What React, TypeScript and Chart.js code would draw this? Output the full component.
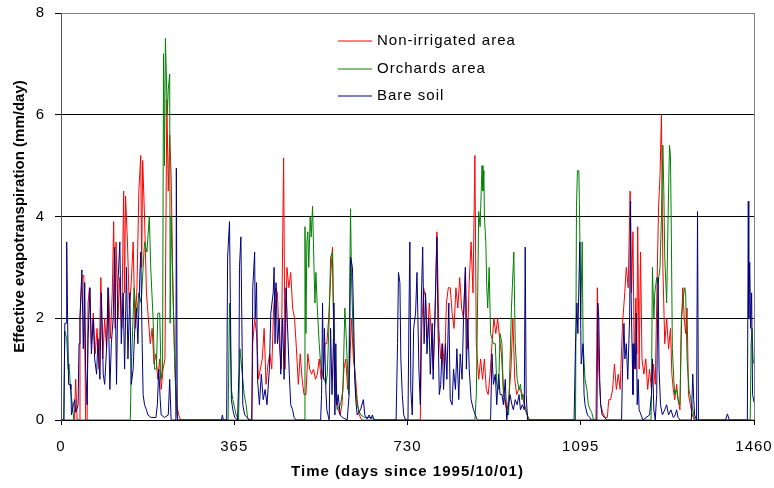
import React, { useEffect, useRef } from 'react';
import { Chart, registerables } from 'chart.js';

Chart.register(...registerables);

// ---------- data (day, mm/day) ----------
const xTickValues = [0, 365, 730, 1095, 1460];
const yTickValues = [0, 2, 4, 6, 8];
const seriesNames = ['Non-irrigated area', 'Orchards area', 'Bare soil'];
const seriesColors = ['#FF0000', '#008000', '#000080'];
const xTitle = 'Time (days since 1995/10/01)';
const yTitle = 'Effective evapotranspiration (mm/day)';

const nonIrrigated: [number, number][] = [
  [0, 0], [28, 0], [31, 0.8], [34, 0], [38, 0], [40, 2.0], [44, 2.8], [48, 2.85], [50, 1.6], [52, 0], [55, 0],
  [57, 2.3], [60, 2.6], [64, 1.5], [68, 2.1], [72, 1.3], [76, 1.8], [80, 1.0], [84, 2.8], [88, 1.2], [92, 2.0],
  [96, 1.4], [100, 2.6], [104, 1.6], [108, 2.5], [111, 3.9], [114, 1.8], [116, 3.5], [120, 2.0], [124, 2.8],
  [128, 1.8], [132, 4.5], [134, 2.5], [136, 4.4], [140, 3.5], [144, 2.2], [148, 2.7], [152, 3.5], [156, 1.8],
  [160, 2.6], [164, 4.5], [168, 5.2], [170, 3.0], [172, 5.1], [176, 4.0], [180, 2.5], [184, 2.0], [188, 1.5],
  [192, 1.8], [196, 1.1], [200, 1.3], [204, 0.8], [208, 1.2], [211, 0.6], [215, 1.0], [219, 1.2], [223, 6.3],
  [226, 4.5], [229, 5.6], [232, 4.8], [236, 2.5], [240, 1.0], [244, 0.3], [248, 0.1], [252, 0],
  [402, 0], [404, 1.5], [408, 2.0], [412, 1.7], [416, 0.8], [420, 1.0], [424, 1.2], [428, 1.8], [432, 0.7],
  [436, 1.1], [440, 1.3], [444, 1.0], [448, 2.2], [452, 2.6], [456, 2.5], [460, 1.5], [464, 1.0], [469, 5.15],
  [472, 1.0], [476, 3.0], [480, 2.6], [484, 2.9], [488, 2.2], [492, 2.0], [496, 1.4], [500, 0.7], [504, 1.3],
  [508, 0.8], [512, 0.5], [516, 0.5], [520, 1.3], [524, 1.0], [528, 0.9], [532, 1.0], [536, 0.8], [540, 0.9],
  [544, 1.2], [548, 0.8], [552, 0.9], [556, 1.5], [560, 1.5], [564, 2.0], [568, 2.8], [572, 3.4], [576, 0.6],
  [580, 0.5], [584, 0.2], [588, 0.1], [592, 0.3], [596, 1.0], [600, 1.2], [604, 0.6], [608, 1.0], [612, 2.0],
  [616, 1.2], [620, 0.9], [624, 0.4], [628, 0.1], [634, 0],
  [757, 0], [760, 1.8], [764, 2.6], [768, 2.4], [772, 1.6], [776, 2.3], [780, 1.7], [784, 1.0], [788, 2.0],
  [792, 3.7], [796, 1.8], [800, 1.2], [804, 1.5], [808, 1.0], [812, 2.3], [816, 2.6], [820, 2.6], [824, 2.1],
  [828, 1.8], [832, 2.6], [836, 2.2], [840, 2.8], [844, 2.2], [848, 2.0], [852, 3.0], [856, 1.4], [860, 2.7],
  [864, 3.5], [868, 2.5], [872, 5.2], [875, 1.5], [880, 0.8], [884, 1.2], [888, 0.8], [892, 1.2], [896, 0.6],
  [900, 0.5], [904, 0.9], [908, 1.5], [912, 2.0], [916, 1.7], [920, 2.0], [924, 1.6], [928, 1.3], [932, 0.6],
  [936, 0.3], [940, 0.2], [944, 0.5], [948, 1.0], [952, 2.0], [956, 0.8], [960, 0.5], [964, 0.6], [968, 0.6],
  [972, 0.5], [976, 0.3], [980, 0.2], [984, 0.05], [988, 0],
  [1127, 0], [1130, 2.6], [1133, 1.0], [1137, 0.3], [1141, 0.15], [1146, 0.05], [1151, 0.05], [1154, 0.4],
  [1158, 0.4], [1162, 0.6], [1166, 1.1], [1170, 0.6], [1174, 0.9], [1178, 0.6], [1183, 1.9], [1187, 2.4],
  [1191, 3.0], [1195, 2.6], [1199, 4.5], [1202, 2.5], [1205, 3.7], [1208, 1.0], [1211, 2.4], [1213, 1.3],
  [1215, 3.8], [1218, 1.0], [1221, 3.3], [1224, 1.2], [1228, 0.9], [1232, 1.2], [1236, 0.6], [1240, 1.0],
  [1244, 0.6], [1248, 1.1], [1252, 0.7], [1256, 2.8], [1259, 4.2], [1262, 4.8], [1265, 6.0], [1268, 3.0],
  [1272, 1.5], [1276, 2.0], [1280, 1.4], [1284, 1.8], [1287, 0.9], [1290, 0.6], [1293, 0.4], [1297, 0.7],
  [1300, 0.4], [1304, 0.2], [1307, 1.8], [1310, 2.6], [1313, 2.0], [1316, 1.7], [1319, 2.2], [1322, 0.5],
  [1326, 0.3], [1330, 0.1], [1334, 0], [1460, 0],
];

const orchards: [number, number][] = [
  [0, 0], [6, 0], [8, 1.75], [12, 1.6], [15, 1.0], [17, 1.1], [20, 0.6], [24, 0.3], [27, 0],
  [146, 0], [148, 1.0], [150, 1.5], [154, 2.6], [159, 2.0], [164, 2.5], [169, 2.3], [173, 3.0], [176, 3.5],
  [181, 3.3], [186, 4.0], [189, 3.0], [194, 2.0], [197, 1.0], [201, 1.0], [204, 2.1], [208, 2.1], [211, 0.8],
  [214, 1.0], [216, 7.2], [218, 5.0], [220, 7.5], [224, 6.0], [226, 6.5], [229, 6.8], [230, 1.9], [232, 4.0],
  [236, 2.5], [240, 1.0], [243, 0.2], [246, 0],
  [352, 0], [355, 2.3], [359, 0.6], [362, 0.4], [369, 0.1], [374, 0], [377, 1.4], [383, 0.8], [386, 0.5],
  [390, 0.3], [393, 0.05], [396, 0],
  [512, 0], [514, 3.8], [516, 1.7], [518, 3.5], [520, 3.7], [522, 3.0], [525, 4.0], [527, 3.6], [530, 4.2],
  [533, 3.0], [535, 2.3], [537, 2.9], [540, 2.2], [544, 1.5], [547, 1.1], [551, 0.9], [555, 0.8], [558, 0.7],
  [561, 0.9], [565, 2.0], [568, 3.2], [572, 3.3], [575, 1.5], [578, 0.5], [582, 0.2], [589, 0.3], [594, 0.6],
  [598, 2.2], [601, 1.6], [606, 0.5], [610, 4.15], [612, 2.8], [616, 1.5], [620, 0.7], [624, 0.3], [631, 0.1],
  [640, 0.05], [656, 0.05], [660, 0],
  [872, 0], [875, 0.5], [878, 2.5], [880, 4.1], [883, 3.8], [887, 5.0], [889, 4.5], [891, 4.9], [892, 4.0],
  [895, 3.5], [897, 2.6], [899, 2.2], [902, 3.0], [905, 1.7], [908, 1.6], [911, 1.5], [915, 1.5], [918, 0.7],
  [922, 0.6], [925, 1.7], [929, 1.5], [932, 0.5], [936, 0.4], [939, 0.2], [943, 0.1], [949, 2.2], [954, 3.3],
  [957, 1.5], [961, 0.8], [965, 0.6], [968, 0.7], [971, 0.4], [975, 0.5], [978, 0.2], [982, 0.1], [987, 0],
  [1084, 0], [1086, 4.2], [1088, 4.9], [1091, 4.9], [1093, 3.7], [1095, 2.0], [1098, 3.5], [1100, 1.5],
  [1104, 0.8], [1108, 0.6], [1111, 0.3], [1115, 0.2], [1118, 0.15], [1122, 0],
  [1243, 0], [1244, 0.5], [1246, 3.0], [1249, 2.0], [1251, 2.5], [1255, 2.8], [1258, 2.7], [1262, 3.0],
  [1265, 4.0], [1268, 5.4], [1270, 4.5], [1272, 3.2], [1276, 2.3], [1279, 4.0], [1282, 5.4], [1284, 5.2],
  [1286, 3.5], [1288, 1.4], [1291, 0.8], [1293, 0.5], [1297, 0.6], [1300, 0.4], [1304, 0.3], [1307, 2.0],
  [1311, 2.4], [1314, 2.6], [1316, 2.5], [1319, 1.2], [1323, 0.6], [1327, 0.4], [1331, 0.2], [1335, 0],
  [1452, 0], [1454, 1.5], [1456, 1.8], [1458, 1.2], [1460, 1.1],
];

const bareSoil: [number, number][] = [
  [0, 0], [6, 0], [8, 1.9], [11, 1.9], [12, 3.5], [14, 1.9], [16, 0.7], [19, 0.7], [21, 0.6], [22, 0.1],
  [26, 0.3], [29, 0.4], [31, 0.15], [33, 0.2], [36, 0.3], [38, 1.5], [40, 2.0], [44, 2.95], [47, 1.4],
  [50, 2.7], [52, 1.0], [55, 0.3], [57, 1.6], [61, 2.6], [64, 1.3], [68, 2.0], [71, 1.2], [75, 0.9], [78, 1.6],
  [82, 0.8], [85, 2.5], [89, 0.9], [92, 0.7], [96, 1.4], [99, 2.6], [103, 0.6], [106, 1.5], [110, 2.0],
  [113, 3.4], [117, 0.7], [120, 2.7], [124, 3.5], [127, 1.5], [131, 2.5], [134, 1.0], [138, 3.0], [141, 1.2],
  [145, 2.5], [148, 0.7], [152, 1.0], [155, 1.7], [159, 2.2], [162, 1.5], [166, 2.8], [168, 3.3], [171, 1.5],
  [173, 0.5], [176, 0.3], [180, 0.2], [183, 0.1], [190, 0.05], [200, 0.05], [203, 0.3], [206, 1.0], [209, 0.4],
  [211, 0.1], [218, 0.05], [226, 0.1], [229, 0.8], [232, 0], [242, 0], [243, 4.95], [245, 0],
  [338, 0], [340, 0.1], [342, 0], [349, 0], [351, 3.2], [355, 3.9], [359, 0.4], [362, 0.2], [366, 0.05],
  [372, 0], [375, 1.0], [376, 3.0], [379, 3.6], [383, 0.3], [387, 0.1], [392, 0.05], [396, 0], [402, 0],
  [404, 2.6], [408, 3.3], [409, 2.0], [412, 2.7], [414, 0.8], [418, 0.3], [422, 0.9], [426, 0.4], [430, 0.6],
  [434, 0.3], [439, 1.0], [442, 2.1], [447, 2.5], [449, 3.0], [451, 1.5], [453, 2.7], [456, 1.5], [460, 2.0],
  [463, 0.9], [467, 2.0], [470, 0.8], [474, 2.6], [477, 1.9], [481, 0.9], [484, 0.3], [488, 0.2], [491, 0.05],
  [495, 0],
  [547, 0], [549, 0.5], [551, 2.3], [553, 0.8], [555, 1.8], [558, 0.6], [560, 0.2], [565, 0], [568, 1.8],
  [571, 0.5], [574, 1.6], [575, 2.3], [577, 0.1], [579, 1.5], [581, 0.3], [584, 0.5], [588, 0.1], [593, 0.05],
  [603, 0], [607, 0.5], [610, 3.2], [614, 3.0], [616, 2.2], [619, 0.8], [621, 0.4], [624, 0.1], [631, 0.2],
  [637, 0.4], [640, 0.1], [645, 0.02], [649, 0.1], [653, 0.02], [656, 0.1], [660, 0],
  [706, 0], [709, 1.5], [711, 2.9], [714, 2.7], [716, 1.2], [719, 0.5], [722, 0.1], [726, 0], [731, 0],
  [733, 2.0], [735, 3.5], [737, 0.6], [740, 0.1], [743, 1.8], [747, 2.1], [750, 2.9], [754, 1.0], [757, 0.3],
  [759, 2.3], [762, 3.4], [765, 1.5], [768, 2.5], [771, 1.3], [775, 2.0], [778, 0.9], [782, 1.9], [784, 0.8],
  [787, 1.8], [792, 3.6], [794, 2.0], [797, 0.5], [800, 0.7], [803, 1.5], [806, 0.6], [810, 1.5], [813, 0.8],
  [817, 2.3], [820, 0.4], [824, 0.3], [827, 1.0], [831, 0.6], [834, 1.4], [838, 0.4], [841, 1.3], [845, 0.8],
  [848, 2.0], [852, 3.0], [854, 1.0], [857, 2.0], [860, 1.0], [864, 0.4], [869, 0.2], [873, 0.1], [877, 0],
  [905, 0], [908, 1.3], [911, 0.7], [915, 0.9], [918, 0.3], [922, 0.9], [925, 0.5], [929, 0.5], [932, 0.3],
  [936, 0.8], [939, 0], [946, 0.5], [950, 0.3], [953, 0.2], [957, 0.4], [961, 0.3], [965, 0.5], [968, 0.2],
  [972, 0.3], [976, 0.2], [978, 3.4], [980, 0.5], [983, 0],
  [1081, 0], [1084, 1.5], [1087, 2.3], [1089, 1.7], [1093, 3.5], [1095, 1.8], [1096, 1.1], [1100, 1.5],
  [1102, 0.5], [1104, 0.3], [1109, 0.1], [1114, 0.05], [1117, 0], [1129, 0], [1131, 2.3], [1133, 2.0],
  [1135, 0.8], [1137, 0.3], [1140, 0.1], [1145, 0.05], [1150, 0], [1181, 0], [1183, 1.0], [1186, 1.9],
  [1188, 1.2], [1191, 1.5], [1194, 0.8], [1198, 2.0], [1200, 4.3], [1201, 2.5], [1203, 1.5], [1205, 0.5],
  [1207, 1.5], [1210, 1.0], [1212, 2.1], [1214, 0.3], [1216, 0.8], [1218, 0.2], [1222, 0.1], [1226, 0],
  [1240, 0.1], [1244, 0.5], [1246, 1.2], [1249, 0.2], [1252, 0], [1255, 0.5], [1258, 2.8], [1260, 1.0],
  [1263, 0.3], [1267, 0.1], [1272, 0.2], [1276, 0.3], [1280, 0.1], [1285, 0.2], [1290, 0.05], [1294, 0.1],
  [1297, 0.2], [1300, 0.05], [1304, 0], [1328, 0], [1331, 0.9], [1333, 0.4], [1335, 0.1], [1339, 0],
  [1341, 4.1], [1343, 0], [1400, 0], [1404, 0.12], [1408, 0], [1446, 0], [1448, 4.3], [1449, 2.0],
  [1451, 3.1], [1453, 1.8], [1455, 2.5], [1457, 0.5], [1460, 0.35],
];

const FONT = '"Liberation Sans", Arial, Helvetica, sans-serif';

const toPoints = (arr: [number, number][]) => arr.map(([x, y]) => ({ x, y }));

const decorPlugin = {
  id: 'decor',
  beforeDraw(chart: any) {
    (chart.ctx as any).letterSpacing = '1px';
  },
  afterDraw(chart: any) {
    const { ctx, chartArea } = chart;
    ctx.save();
    // legend
    ctx.font = `15px ${FONT}`;
    (ctx as any).letterSpacing = '1px';
    ctx.textAlign = 'left';
    ctx.textBaseline = 'alphabetic';
    const rows = [45, 73, 100];
    seriesNames.forEach((name, i) => {
      const y = rows[i];
      ctx.strokeStyle = seriesColors[i];
      ctx.lineWidth = 1;
      ctx.beginPath();
      ctx.moveTo(338, y - 4);
      ctx.lineTo(372, y - 4);
      ctx.stroke();
      ctx.fillStyle = '#000';
      ctx.fillText(name, 377, y);
    });
    // axis titles
    ctx.font = `bold 15px ${FONT}`;
    ctx.fillStyle = '#000';
    ctx.textAlign = 'center';
    ctx.textBaseline = 'middle';
    (ctx as any).letterSpacing = '1px';
    ctx.fillText(xTitle, (chartArea.left + chartArea.right) / 2, 472);
    (ctx as any).letterSpacing = '0px';
    ctx.translate(20, (chartArea.top + chartArea.bottom) / 2);
    ctx.rotate(-Math.PI / 2);
    ctx.fillText(yTitle, 0, 0);
    ctx.restore();
  },
};

export default function App() {
  const canvasRef = useRef<HTMLCanvasElement | null>(null);

  useEffect(() => {
    const canvas = canvasRef.current;
    if (!canvas) return;
    const tickFont = { family: FONT, size: 15 };
    const chart = new Chart(canvas, {
      type: 'line',
      data: {
        datasets: [
          { label: seriesNames[0], data: toPoints(nonIrrigated), borderColor: seriesColors[0], borderWidth: 1, pointRadius: 0, tension: 0, order: 3 },
          { label: seriesNames[1], data: toPoints(orchards), borderColor: seriesColors[1], borderWidth: 1, pointRadius: 0, tension: 0, order: 2 },
          { label: seriesNames[2], data: toPoints(bareSoil), borderColor: seriesColors[2], borderWidth: 1, pointRadius: 0, tension: 0, order: 1 },
        ],
      },
      options: {
        responsive: false,
        animation: false,
        events: [],
        layout: { padding: { left: 0, top: 13, right: 20, bottom: 0 } },
        plugins: { legend: { display: false }, tooltip: { enabled: false } },
        scales: {
          x: {
            type: 'linear',
            min: 0,
            max: 1460,
            afterBuildTicks: (s: any) => { s.ticks = xTickValues.map((v) => ({ value: v })); },
            afterFit: (s: any) => {
              s.height = 68;
              s.paddingLeft = 0;
              s.paddingRight = 0;
            },
            grid: {
              drawOnChartArea: true,
              color: (c: any) => (c.tick && c.tick.value === 1460 ? '#808080' : 'rgba(0,0,0,0)'),
              tickColor: '#000',
              tickLength: 5,
              lineWidth: 1,
            },
            border: { color: '#000', width: 1 },
            ticks: {
              color: '#000', font: tickFont, padding: 13, maxRotation: 0, autoSkip: false,
              callback: (v: any) => String(v),
            },
          },
          y: {
            type: 'linear',
            min: 0,
            max: 8,
            afterBuildTicks: (s: any) => { s.ticks = yTickValues.map((v) => ({ value: v })); },
            afterFit: (s: any) => {
              s.width = 61;
              s.paddingTop = 0;
              s.paddingBottom = 0;
            },
            grid: {
              color: (c: any) => (c.tick && c.tick.value === 8 ? '#808080' : '#000'),
              tickColor: '#000',
              tickLength: 6,
              lineWidth: 1,
            },
            border: { color: '#555', width: 1 },
            ticks: { color: '#000', font: tickFont, padding: 10, callback: (v: any) => String(v) },
          },
        },
      },
      plugins: [decorPlugin],
    } as any);
    return () => chart.destroy();
  }, []);

  return (
    <div style={{ position: 'fixed', left: 0, top: 0, width: 774, height: 488, background: '#fff' }}>
      <canvas ref={canvasRef} width={774} height={488} style={{ display: 'block' }} />
    </div>
  );
}
